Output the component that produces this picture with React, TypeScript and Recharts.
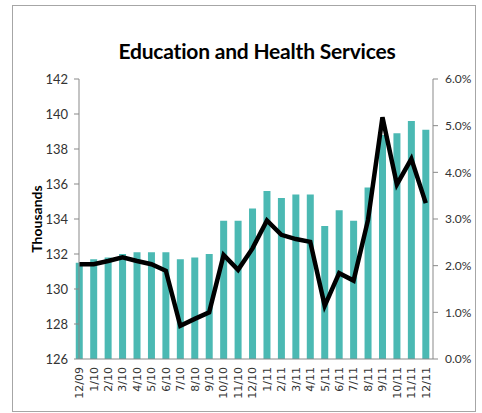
import { ComposedChart, Bar, Line, XAxis, YAxis } from 'recharts';

// months from 12/09 through 12/11
const months = [
    '12/09', '1/10', '2/10', '3/10', '4/10', '5/10', '6/10', '7/10', '8/10', '9/10', '10/10', '11/10', '12/10',
    '1/11', '2/11', '3/11', '4/11', '5/11', '6/11', '7/11', '8/11', '9/11', '10/11', '11/11', '12/11',
];

// employment level, thousands
const employment = [
    131.5, 131.7, 131.8, 132.0, 132.1, 132.1, 132.1, 131.7, 131.8, 132.0, 133.9, 133.9, 134.6,
    135.6, 135.2, 135.4, 135.4, 133.6, 134.5, 133.9, 135.8, 138.8, 138.9, 139.6, 139.1,
];

// year-over-year growth, percent
const growth = [
    2.03, 2.03, 2.1, 2.18, 2.1, 2.03, 1.89, 0.71, 0.86, 1.0, 2.23, 1.91, 2.37,
    2.97, 2.66, 2.57, 2.51, 1.14, 1.84, 1.68, 2.98, 5.18, 3.74, 4.29, 3.34,
];

const leftTicks = [126, 128, 130, 132, 134, 136, 138, 140, 142];
const rightTicks = [0, 1, 2, 3, 4, 5, 6];

const data = months.map((m, i) => ({ month: m, employment: employment[i], growth: growth[i] }));

const AXIS = '#898989';
const TEXT = '#333333';

const MonthTick = ({ x, y, payload }: any) => (
    <text
        x={x}
        y={y}
        transform={`rotate(-90, ${x}, ${y})`}
        textAnchor="end"
        dy="0.35em"
        fontSize={11}
        fontFamily="'DejaVu Sans', sans-serif"
        fill={TEXT}
    >
        {payload.value}
    </text>
);

export default function App() {
    return (
        <div style={{ position: 'absolute', left: 0, top: 0, width: 482, height: 413, background: 'white', fontFamily: 'Lato, sans-serif' }}>
            <div style={{
                position: 'absolute', left: 12, top: 5, width: 462, height: 405,
                border: '1px solid #a6a6a6'
            }} />
            <div style={{
                position: 'absolute', left: 79, top: 40, width: 356, textAlign: 'center',
                fontSize: 21, fontWeight: 700, lineHeight: '22px', color: '#000', letterSpacing: -0.2
            }}>
                Education and Health Services
            </div>
            <div style={{ position: 'absolute', left: 0, top: 0 }}>
                <ComposedChart
                    width={482}
                    height={413}
                    data={data}
                    margin={{ top: 79, right: 0, left: 0, bottom: 0 }}
                    barCategoryGap="26%"
                >
                    <XAxis
                        dataKey="month"
                        height={54}
                        interval={0}
                        padding={{ left: -7, right: 0 }}
                        tickLine={false}
                        tickMargin={2}
                        stroke={AXIS}
                        tick={<MonthTick />}
                    />
                    <YAxis
                        yAxisId="left"
                        width={79}
                        domain={[126, 142]}
                        ticks={leftTicks}
                        allowDataOverflow
                        tickSize={5}
                        tickMargin={6}
                        stroke={AXIS}
                        tick={{ fill: TEXT, fontSize: 13, fontFamily: 'Lato, sans-serif' }}
                        label={{
                            value: 'Thousands', angle: -90, position: 'insideLeft', offset: 37,
                            style: { textAnchor: 'middle', fontWeight: 700, fontSize: 14, fill: '#000', fontFamily: 'Lato, sans-serif' }
                        }}
                    />
                    <YAxis
                        yAxisId="right"
                        orientation="right"
                        width={49}
                        domain={[0, 6]}
                        ticks={rightTicks}
                        tickSize={5}
                        tickMargin={7}
                        stroke={AXIS}
                        tickFormatter={(v: number) => `${v.toFixed(1)}%`}
                        tick={{ fill: TEXT, fontSize: 12, fontFamily: 'Lato, sans-serif', textAnchor: 'start' }}
                    />
                    <Bar yAxisId="left" dataKey="employment" fill="#4BB9B3" isAnimationActive={false} />
                    <Line
                        yAxisId="right"
                        dataKey="growth"
                        type="linear"
                        stroke="#000"
                        strokeWidth={4.5}
                        dot={false}
                        isAnimationActive={false}
                    />
                </ComposedChart>
            </div>
        </div>
    );
}
